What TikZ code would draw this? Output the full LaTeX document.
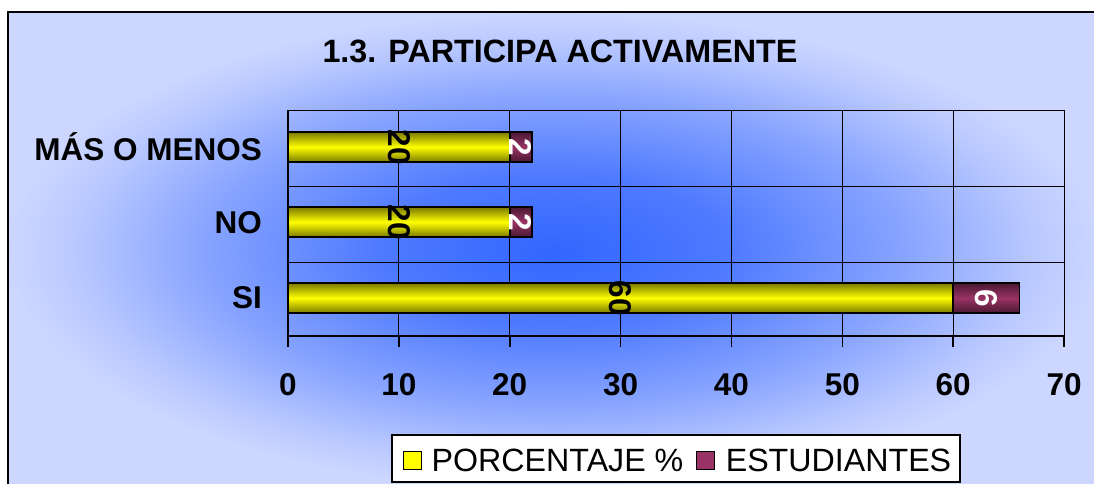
\documentclass[tikz,border=0pt]{standalone}
\usepackage{fontspec}
\setmainfont{Liberation Sans}
\usepackage{xcolor}
\usetikzlibrary{positioning}
\definecolor{bgdark}{HTML}{3366FF}
\definecolor{bglight}{HTML}{CCD6FF}
\definecolor{barY}{HTML}{FFFF00}
\definecolor{barYdark}{HTML}{7A7A00}
\definecolor{barM}{HTML}{993366}
\definecolor{barMdark}{HTML}{4A1830}
\pgfdeclareradialshading{chartbg}{\pgfpoint{0bp}{0bp}}{%
  color(0bp)=(bgdark); color(8bp)=(bgdark!82!bglight);
  color(16bp)=(bgdark!45!bglight); color(22bp)=(bgdark!12!bglight);
  color(25bp)=(bglight); color(50bp)=(bglight)}
\newcommand{\unitpx}{11.086}
\tikzset{
  bigtext/.style={font=\fontsize{31.5}{36}\selectfont\bfseries, inner sep=0pt},
  legtext/.style={font=\fontsize{32.2}{36}\selectfont, inner sep=0pt},
  gridline/.style={black, line width=0.9pt},
  axisline/.style={black, line width=1.6pt},
  barbox/.style={draw=black, line width=1.6pt},
  pctbar/.style={top color=barYdark, bottom color=barYdark, middle color=barY},
  estbar/.style={top color=barMdark, bottom color=barMdark, middle color=barM},
  keybox/.style={draw=black, line width=1pt, minimum size=18pt, inner sep=0pt}
}

\begin{document}
\begin{tikzpicture}[x=1pt,y=-1pt]
    \clip (0,0) rectangle (1094,483);
    \fill[white] (0,0) rectangle (1094,483);
    \shade[shading=chartbg] (8,12) rectangle (1100,490);
    \draw[line width=1.5pt] (8,12) rectangle (1100,490);

    \node[bigtext, font=\fontsize{32.3}{36}\selectfont\bfseries] (title) at (560,51) {1.3. PARTICIPA ACTIVAMENTE};

    % grid
    \foreach \v in {10,20,...,70}
        \draw[gridline] ({288+\v*\unitpx},110) -- ({288+\v*\unitpx},336);
    \foreach \yy in {110,186,262}
        \draw[gridline] (288,\yy) -- (1064,\yy);

    % bars
    \foreach \yy/\p/\e/\nm in {147/20/2/mas, 222/20/2/no, 298/60/6/si} {
        \shade[pctbar] (288,\yy-15) rectangle ({288+\p*\unitpx},\yy+15);
        \draw[barbox] (288,\yy-15) rectangle ({288+\p*\unitpx},\yy+15);
        \shade[estbar] ({288+\p*\unitpx},\yy-15) rectangle ({288+(\p+\e)*\unitpx},\yy+15);
        \draw[barbox] ({288+\p*\unitpx},\yy-15) rectangle ({288+(\p+\e)*\unitpx},\yy+15);
        \node[bigtext, rotate=-90] (pct-\nm) at ({288+\p*\unitpx/2},\yy) {\p};
        \node[bigtext, white, rotate=-90] (est-\nm) at ({288+(\p+\e/2)*\unitpx},\yy) {\e};
    }

    % axes
    \draw[axisline] (288,110) -- (288,336) -- (1064,336);
    \foreach \v in {0,10,...,70} {
        \draw[axisline] ({288+\v*\unitpx},336) -- ({288+\v*\unitpx},347);
        \node[bigtext] (tick\v) at ({288+\v*\unitpx},385) {\v};
    }

    \node[bigtext, anchor=east] (cat-mas) at (262,147) {MÁS O MENOS};
    \node[bigtext, anchor=east] (cat-no) at (262,223) {NO};
    \node[bigtext, anchor=east] (cat-si) at (262,298) {SI};

    % legend
    \node[draw=black, fill=white, line width=1.3pt, minimum width=568pt,
          minimum height=47pt, inner sep=0pt] (legend) at (676,458.5) {};
    \node[keybox, fill=barY] (keyP) at (412,460) {};
    \node[legtext, right=10pt of keyP] (txtP) {PORCENTAJE \%};
    \node[keybox, fill=barM, right=12pt of txtP] (keyE) {};
    \node[legtext, right=11pt of keyE] (txtE) {ESTUDIANTES};
\end{tikzpicture}
\end{document}
